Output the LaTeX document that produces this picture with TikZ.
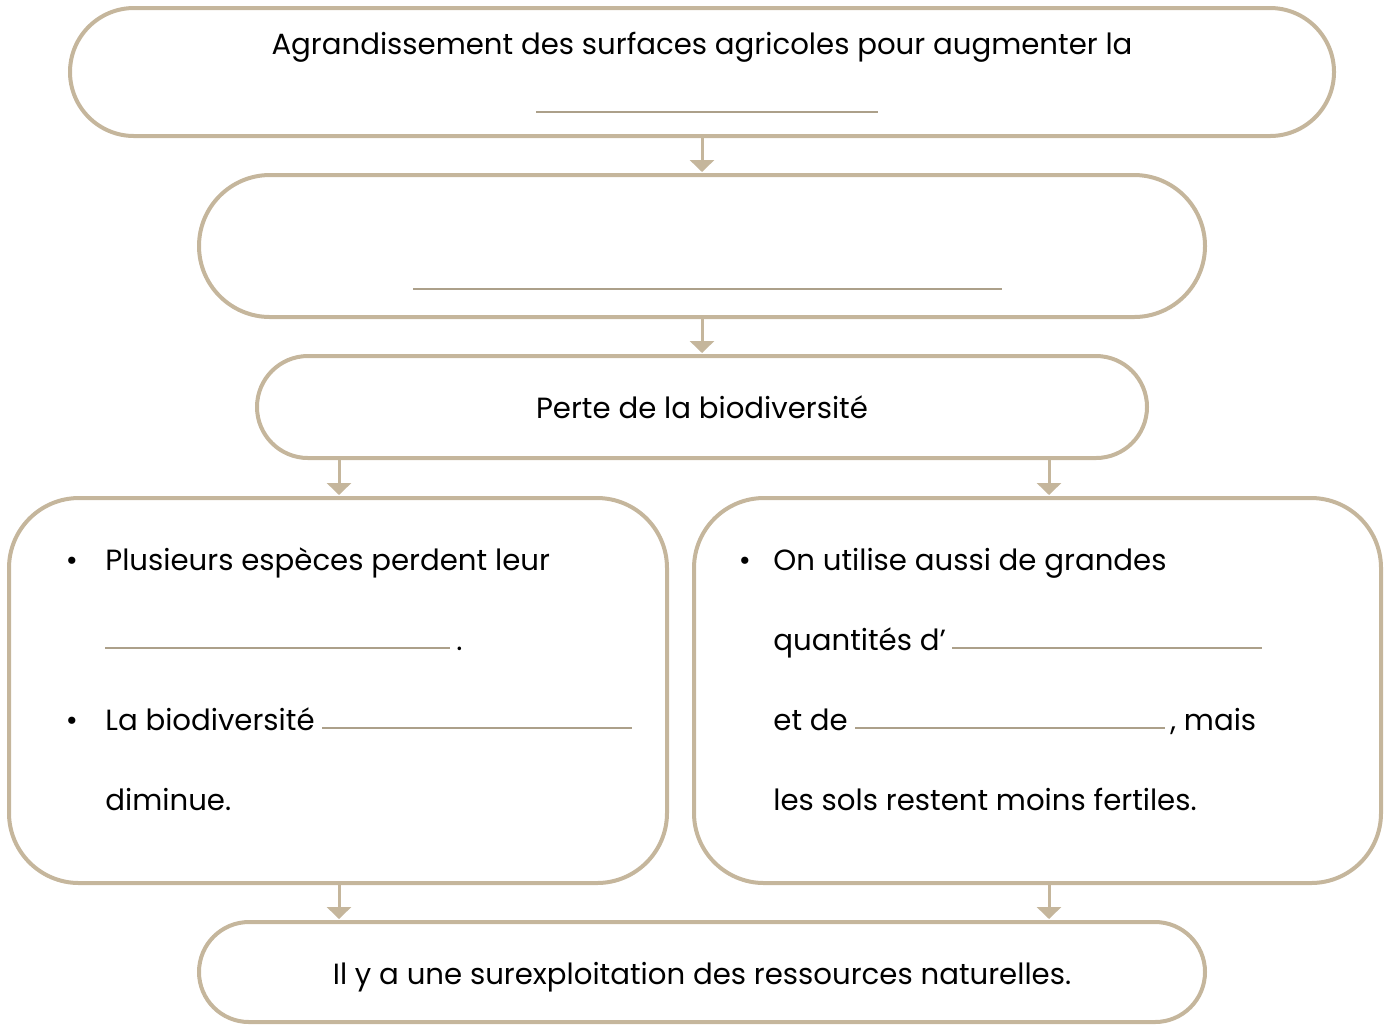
\documentclass[tikz,border=0pt]{standalone}
\usepackage{fontspec}
\setmainfont{Poppins}
\usetikzlibrary{arrows.meta}
\definecolor{sable}{RGB}{197,182,156}
\definecolor{trait}{RGB}{172,160,138}
\tikzset{
    boite/.style={draw=sable,line width=2pt,rectangle,inner sep=0pt},
    fleche/.style={draw=sable,line width=1.5pt,-{Triangle[width=12pt,length=6pt]},shorten >=0.5pt},
    texte/.style={anchor=base,font=\fontsize{14.6pt}{18pt}\selectfont,inner sep=0pt},
    ligne/.style={anchor=base west,font=\fontsize{14.6pt}{18pt}\selectfont,inner sep=0pt},
    vide/.style={draw=trait,line width=0.7pt}
}
\begin{document}
\begin{tikzpicture}[x=0.5pt,y=-0.5pt]
            \useasboundingbox (0,0) rectangle (1391,1025);
            \node[boite,minimum width=632pt,minimum height=64pt,rounded corners=32pt] (haut) at(702,72) {};
            \node[boite,minimum width=503pt,minimum height=71pt,rounded corners=35.5pt] (effet) at(702,246) {};
            \node[boite,minimum width=445pt,minimum height=51pt,rounded corners=25.5pt] (perte) at(702,407) {};
            \node[boite,minimum width=329pt,minimum height=192.5pt,rounded corners=35pt] (gauche) at(338,690.5) {};
            \node[boite,minimum width=343.5pt,minimum height=192.5pt,rounded corners=35pt] (droite) at(1037.5,690.5) {};
            \node[boite,minimum width=503pt,minimum height=50pt,rounded corners=25pt] (bas) at(702,972) {};
            \coordinate (cg) at(339,0);
            \coordinate (cd) at(1049,0);
            \draw[fleche] (haut.south) -- (effet.north);
            \draw[fleche] (effet.south) -- (perte.north);
            \draw[fleche] (perte.south -| cg) -- (gauche.north -| cg);
            \draw[fleche] (perte.south -| cd) -- (droite.north -| cd);
            \draw[fleche] (gauche.south -| cg) -- (bas.north -| cg);
            \draw[fleche] (droite.south -| cd) -- (bas.north -| cd);
            \node[texte] (t1) at(702,54) {Agrandissement des surfaces agricoles pour augmenter la};
            \draw[vide] (536,112) -- (878,112);
            \draw[vide] (413,289) -- (1002,289);
            \node[texte] (t3) at(702,418) {Perte de la biodiversité};
            \node[texte] (t6) at(702,984) {Il y a une surexploitation des ressources naturelles.};
            \node[texte] (pg1) at(72,570) {•};
            \node[ligne] (g1) at(105,570) {Plusieurs espèces perdent leur};
            \draw[vide] (105,648) -- (450,648);
            \node[ligne] (g2) at(456,650) {.};
            \node[texte] (pg2) at(72,730) {•};
            \node[ligne] (g3) at(105,730) {La biodiversité};
            \draw[vide] (322,728) -- (632,728);
            \node[ligne] (g4) at(105,810) {diminue.};
            \node[texte] (pd1) at(745,570) {•};
            \node[ligne] (d1) at(773,570) {On utilise aussi de grandes};
            \node[ligne] (d2) at(773,650) {quantités d’};
            \draw[vide] (952,648) -- (1262,648);
            \node[ligne] (d3) at(773,730) {et de};
            \draw[vide] (855,728) -- (1165,728);
            \node[ligne] (d4) at(1170,730) {, mais};
            \node[ligne] (d5) at(773,810) {les sols restent moins fertiles.};
        \end{tikzpicture}
\end{document}
